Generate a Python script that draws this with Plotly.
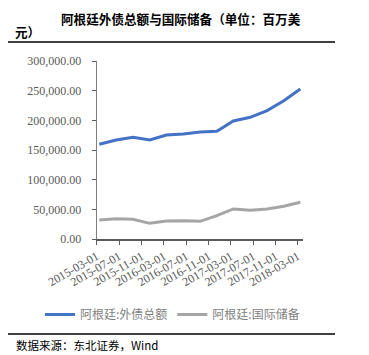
import plotly.graph_objects as go

dates = ["2015-03-15", "2015-06-15", "2015-09-15", "2015-12-15",
         "2016-03-15", "2016-06-15", "2016-09-15", "2016-12-15",
         "2017-03-15", "2017-06-15", "2017-09-15", "2017-12-15",
         "2018-03-15"]
external_debt = [159600, 166900, 171300, 166900, 175300, 177000, 180300,
                 181500, 198900, 205100, 216300, 233100, 252800]
reserves = [32000, 34300, 33100, 26400, 30300, 30900, 29800,
            39300, 50600, 48300, 50600, 55100, 61800]
series_names = ["阿根廷:外债总额", "阿根廷:国际储备"]
title_line1 = "阿根廷外债总额与国际储备（单位：百万美"
title_line2 = "元）"
source_text = "数据来源：东北证券，Wind"

# page offset of the plot div (default body margin)
O = 8
W, H = 369 - O, 355 - O


def px(x):
    return (x - O) / W


def py(y):
    return 1 - (y - O) / H


fig = go.Figure()
fig.add_trace(go.Scatter(x=dates, y=external_debt, mode="lines", name=series_names[0],
                         line=dict(color="#4472C4", width=3)))
fig.add_trace(go.Scatter(x=dates, y=reserves, mode="lines", name=series_names[1],
                         line=dict(color="#A5A5A5", width=3)))

tickfont = dict(family="Liberation Serif", size=12, color="#595959")
fig.update_layout(
    width=W, height=H, autosize=False,
    margin=dict(l=0, r=0, t=0, b=0, autoexpand=False),
    paper_bgcolor="white", plot_bgcolor="white",
    showlegend=True,
    legend=dict(orientation="h", x=px(40), y=py(300), xanchor="left", yanchor="top",
                font=dict(family="Noto Sans CJK SC", size=12, color="#7f7f7f"),
                itemwidth=30, tracegroupgap=0, bgcolor="rgba(0,0,0,0)"),
    xaxis=dict(domain=[px(96.7), px(302.7)], type="date", automargin=False,
               range=["2015-03-01", "2018-03-28"],
               tick0="2015-03-01", dtick="M4", tickformat="%Y-%m-%d",
               tickangle=-30, ticks="outside", ticklen=4, tickcolor="#595959",
               showline=True, linecolor="#595959", linewidth=2,
               showgrid=False, zeroline=False, tickfont=tickfont),
    yaxis=dict(domain=[py(239), py(61)], range=[0, 300000], dtick=50000,
               automargin=False,
               tickformat=",.2f", ticks="outside", ticklen=4, tickcolor="#595959",
               showline=True, linecolor="#7f7f7f", linewidth=1,
               showgrid=False, zeroline=False, tickfont=tickfont,
               ticklabelstandoff=8),
)

titlefont = dict(family="Noto Sans CJK SC", size=12.6, color="black")
fig.add_annotation(text="<b>" + title_line1 + "</b>", xref="paper", yref="paper",
                   x=px(60), y=1.0, xanchor="left", yanchor="top", borderpad=0,
                   showarrow=False, font=titlefont)
fig.add_annotation(text="<b>" + title_line2 + "</b>", xref="paper", yref="paper",
                   x=px(13), y=py(32), xanchor="left", yanchor="middle",
                   showarrow=False, font=titlefont)
fig.add_annotation(text=source_text, xref="paper", yref="paper",
                   x=px(14), y=py(345), xanchor="left", yanchor="middle",
                   showarrow=False, font=dict(family="Noto Sans CJK SC", size=11.5, color="black"))
for yy in (42, 334):
    fig.add_shape(type="line", xref="paper", yref="paper",
                  x0=px(8), x1=px(335), y0=py(yy), y1=py(yy),
                  line=dict(color="black", width=1.5))

fig.write_html("out.html")
